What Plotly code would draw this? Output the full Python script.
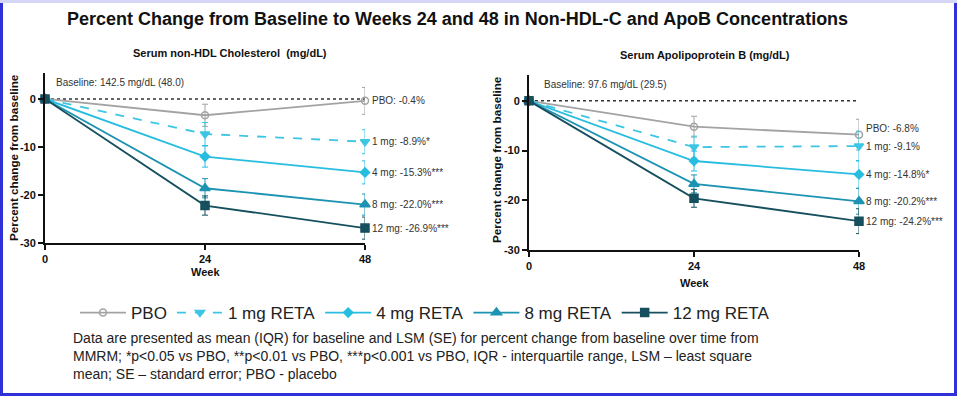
import plotly.graph_objects as go

W, H = 957, 396

weeks = [0, 24, 48]
groups = ["PBO", "1 mg RETA", "4 mg RETA", "8 mg RETA", "12 mg RETA"]

# Serum non-HDL Cholesterol: LSM percent change
nhdl_pbo = [0, -3.4, -0.4]
nhdl_1mg = [0, -7.3, -8.9]
nhdl_4mg = [0, -12.0, -15.3]
nhdl_8mg = [0, -18.6, -22.0]
nhdl_12mg = [0, -22.2, -26.9]
nhdl_se_pbo = [0, 2.3, 2.8]
nhdl_se_1mg = [0, 2.4, 2.5]
nhdl_se_4mg = [0, 2.2, 2.4]
nhdl_se_8mg = [0, 2.0, 2.2]
nhdl_se_12mg = [0, 2.0, 2.3]
nhdl_labels = ["PBO: -0.4%", "1 mg: -8.9%*", "4 mg: -15.3%***", "8 mg: -22.0%***", "12 mg: -26.9%***"]

# Serum Apolipoprotein B: LSM percent change
apob_pbo = [0, -5.2, -6.8]
apob_1mg = [0, -9.3, -9.1]
apob_4mg = [0, -12.1, -14.8]
apob_8mg = [0, -16.7, -20.2]
apob_12mg = [0, -19.6, -24.2]
apob_se_pbo = [0, 2.1, 3.1]
apob_se_1mg = [0, 2.2, 3.0]
apob_se_4mg = [0, 2.0, 2.8]
apob_se_8mg = [0, 1.8, 2.6]
apob_se_12mg = [0, 1.8, 2.5]
apob_labels = ["PBO: -6.8%", "1 mg: -9.1%", "4 mg: -14.8%*", "8 mg: -20.2%***", "12 mg: -24.2%***"]

colors = ["#a3a3a3", "#3cc6e4", "#27bde0", "#1d93b2", "#164f5d"]
symbols = ["circle-open", "triangle-down", "diamond", "triangle-up", "square"]
dashes = ["solid", "dash", "solid", "solid", "solid"]
sizes = [7, 8, 7, 9, 8]


def px_x(x):
    return x / W


def px_y(y):
    return 1 - y / H


fig = go.Figure()

panels = [
    dict(vals=[nhdl_pbo, nhdl_1mg, nhdl_4mg, nhdl_8mg, nhdl_12mg],
         se=[nhdl_se_pbo, nhdl_se_1mg, nhdl_se_4mg, nhdl_se_8mg, nhdl_se_12mg],
         labels=nhdl_labels, xa="x", ya="y",
         xdom=[px_x(45), px_x(365)], ydom=[px_y(243), px_y(73)], yr=[-30, 5.4],
         title="Serum non-HDL Cholesterol  (mg/dL)", tx=230, ty=53,
         base="Baseline: 142.5 mg/dL (48.0)", bx=54, by=82,
         weekx=205, weeky=272, ytx=13, yty=158, shifts=[0, 0, 0, 0, 0]),
    dict(vals=[apob_pbo, apob_1mg, apob_4mg, apob_8mg, apob_12mg],
         se=[apob_se_pbo, apob_se_1mg, apob_se_4mg, apob_se_8mg, apob_se_12mg],
         labels=apob_labels, xa="x2", ya="y2",
         xdom=[px_x(529), px_x(859)], ydom=[px_y(250), px_y(75)], yr=[-30, 5.2],
         title="Serum Apolipoprotein B (mg/dL)", tx=705, ty=55,
         base="Baseline: 97.6 mg/dL (29.5)", bx=542, by=84,
         weekx=694, weeky=283, ytx=497, yty=160, shifts=[6, 0, 0, 0, 0]),
]

annotations = []
shapes = []
for pi, p in enumerate(panels):
    for gi in range(5):
        fig.add_trace(go.Scatter(
            x=weeks, y=p["vals"][gi], xaxis=p["xa"], yaxis=p["ya"],
            name=groups[gi], legendgroup=groups[gi], showlegend=(pi == 0),
            mode="lines+markers", cliponaxis=False,
            line=dict(color=colors[gi], width=1.8, dash=dashes[gi]),
            marker=dict(symbol=symbols[gi], size=sizes[gi], color=colors[gi],
                        line=dict(color=colors[gi], width=1.5)),
            error_y=dict(type="data", array=p["se"][gi], visible=True,
                         color=colors[gi], thickness=1, width=3),
        ))
        annotations.append(dict(
            x=48, y=p["vals"][gi][2], xref=p["xa"], yref=p["ya"],
            text=p["labels"][gi], showarrow=False, xanchor="left", yanchor="middle",
            xshift=5, yshift=p["shifts"][gi],
            font=dict(family="Liberation Sans, Arial", size=10, color="#333333")))
    shapes.append(dict(type="line", xref=p["xa"], yref=p["ya"], x0=0, x1=48, y0=0, y1=0,
                       line=dict(color="#333333", width=1.5, dash="dot"), layer="below"))
    annotations += [
        dict(x=px_x(p["tx"]), y=px_y(p["ty"]), xref="paper", yref="paper", text="<b>" + p["title"] + "</b>",
             showarrow=False, xanchor="center", yanchor="middle",
             font=dict(family="Liberation Sans, Arial", size=11, color="#111111")),
        dict(x=px_x(p["bx"]), y=px_y(p["by"]), xref="paper", yref="paper", text=p["base"],
             showarrow=False, xanchor="left", yanchor="middle",
             font=dict(family="Liberation Sans, Arial", size=10, color="#333333")),
        dict(x=px_x(p["weekx"]), y=px_y(p["weeky"]), xref="paper", yref="paper", text="<b>Week</b>",
             showarrow=False, xanchor="center", yanchor="middle",
             font=dict(family="Liberation Sans, Arial", size=11, color="#111111")),
        dict(x=px_x(p["ytx"]), y=px_y(p["yty"]), xref="paper", yref="paper",
             text="<b>Percent change from baseline</b>", textangle=-90,
             showarrow=False, xanchor="center", yanchor="middle",
             font=dict(family="Liberation Sans, Arial", size=11.7, color="#111111")),
    ]

annotations.append(dict(
    x=px_x(457), y=px_y(19), xref="paper", yref="paper",
    text="<b>Percent Change from Baseline to Weeks 24 and 48 in Non-HDL-C and ApoB Concentrations</b>",
    showarrow=False, xanchor="center", yanchor="middle",
    font=dict(family="Liberation Sans, Arial", size=18, color="#111111")))

annotations.append(dict(
    x=px_x(71), y=px_y(356), xref="paper", yref="paper",
    text=("Data are presented as mean (IQR) for baseline and LSM (SE) for percent change from baseline over time from<br>"
          "MMRM; *p&lt;0.05 vs PBO, **p&lt;0.01 vs PBO, ***p&lt;0.001 vs PBO, IQR - interquartile range, LSM – least square<br>"
          "mean; SE – standard error; PBO - placebo"),
    showarrow=False, xanchor="left", yanchor="middle", align="left",
    font=dict(family="Liberation Sans, Arial", size=14, color="#222222")))

# page border
bx = 1.5 / W
by = 1.5 / H
shapes += [
    dict(type="line", xref="paper", yref="paper", x0=bx, x1=bx, y0=0, y1=1,
         line=dict(color="#3030d8", width=3)),
    dict(type="line", xref="paper", yref="paper", x0=1 - bx, x1=1 - bx, y0=0, y1=1,
         line=dict(color="#3030d8", width=3)),
    dict(type="line", xref="paper", yref="paper", x0=0, x1=1, y0=by, y1=by,
         line=dict(color="#3030d8", width=3)),
    dict(type="line", xref="paper", yref="paper", x0=0, x1=1, y0=1 - by, y1=1 - by,
         line=dict(color="#d6d6f6", width=3)),
]

axis_common = dict(showline=True, linecolor="#111111", linewidth=2, ticks="outside",
                   ticklen=5, tickwidth=2, tickcolor="#111111", showgrid=False, zeroline=False,
                   tickfont=dict(family="Liberation Sans, Arial", size=11, color="#111111"))

fig.update_layout(
    width=W, height=H, autosize=False,
    margin=dict(l=0, r=0, t=0, b=0, pad=0, autoexpand=False),
    paper_bgcolor="white", plot_bgcolor="white",
    xaxis=dict(domain=panels[0]["xdom"], range=[0, 48], tickvals=[0, 24, 48],
               ticktext=["<b>0</b>", "<b>24</b>", "<b>48</b>"], anchor="y", **axis_common),
    yaxis=dict(domain=panels[0]["ydom"], range=panels[0]["yr"], tickvals=[0, -10, -20, -30],
               ticktext=["<b>0</b>", "<b>-10</b>", "<b>-20</b>", "<b>-30</b>"], anchor="x", **axis_common),
    xaxis2=dict(domain=panels[1]["xdom"], range=[0, 48], tickvals=[0, 24, 48],
                ticktext=["<b>0</b>", "<b>24</b>", "<b>48</b>"], anchor="y2", **axis_common),
    yaxis2=dict(domain=panels[1]["ydom"], range=panels[1]["yr"], tickvals=[0, -10, -20, -30],
                ticktext=["<b>0</b>", "<b>-10</b>", "<b>-20</b>", "<b>-30</b>"], anchor="x2", **axis_common),
    legend=dict(orientation="h", x=px_x(75), y=px_y(295), xanchor="left", yanchor="top",
                font=dict(family="Liberation Sans, Arial", size=17, color="#222222"),
                itemwidth=46, traceorder="normal", bgcolor="rgba(0,0,0,0)"),
    annotations=annotations, shapes=shapes,
)

fig.write_html("out.html", config={"displayModeBar": False, "responsive": False},
               post_script="document.body.style.margin='0px';")
